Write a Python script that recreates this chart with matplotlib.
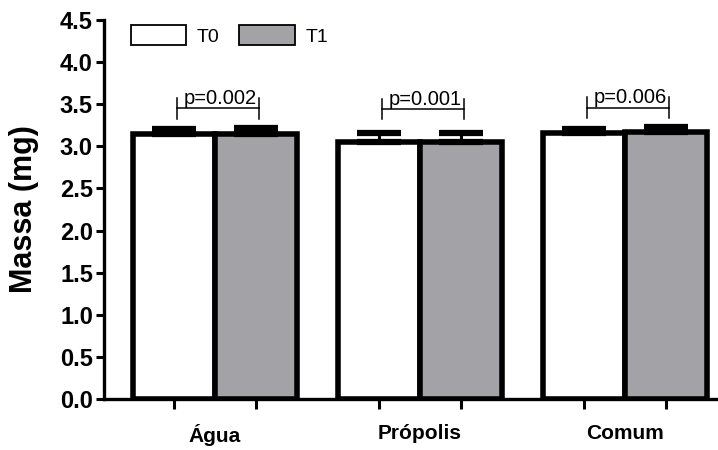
import matplotlib
matplotlib.use("Agg")
import matplotlib.pyplot as plt
import numpy as np
from matplotlib.patches import Patch

plt.rcParams['font.family'] = ['Liberation Sans', 'DejaVu Sans']

categories = ["Água", "Própolis", "Comum"]
series_names = ["T0", "T1"]
t0_mean = [3.15, 3.05, 3.16]
t0_err = [0.06, 0.11, 0.05]
t1_mean = [3.15, 3.05, 3.17]
t1_err = [0.07, 0.11, 0.055]
p_labels = ["p=0.002", "p=0.001", "p=0.006"]
bracket_y = [3.45, 3.44, 3.46]
y_ticks = [0.0, 0.5, 1.0, 1.5, 2.0, 2.5, 3.0, 3.5, 4.0, 4.5]

gray = '#a3a2a7'

fig = plt.figure(figsize=(7.18, 4.5), dpi=100)
ax = fig.add_axes([104/718, 51/450, 614/718, 379/450])

x = np.arange(len(categories))
w = 0.4
edge_lw = 4.0

for means, errs, off, fc in [(t0_mean, t0_err, -w/2, 'white'), (t1_mean, t1_err, w/2, gray)]:
    ax.bar(x + off, means, width=w, color=fc, edgecolor='black', linewidth=edge_lw, zorder=2)
    ax.errorbar(x + off, means, yerr=[np.zeros(len(errs)), errs], fmt='none',
                ecolor='black', elinewidth=2.2, capsize=16, capthick=4.5, zorder=3)

for i, (py, lab) in enumerate(zip(bracket_y, p_labels)):
    x0, x1 = x[i] - w/2 + 0.015, x[i] + w/2 + 0.015
    ax.plot([x0, x1], [py, py], color='black', lw=1.1, zorder=4)
    ax.plot([x0, x0], [py - 0.12, py + 0.12], color='black', lw=1.1, zorder=4)
    ax.plot([x1, x1], [py - 0.12, py + 0.12], color='black', lw=1.1, zorder=4)
    ax.text((x0 + x1) / 2 + 0.01, py + 0.05, lab, ha='center', va='baseline', fontsize=14.5, zorder=5)

ax.set_xlim(-0.541, 2.454)
ax.set_ylim(0, 4.5)
ax.set_yticks(y_ticks)
ax.set_yticklabels([f"{v:.1f}" for v in y_ticks], fontsize=17, fontweight='bold')

bar_centers = np.concatenate([x - w/2, x + w/2])
ax.set_xticks(bar_centers)
ax.set_xticklabels([])
ax.set_xticks(x, minor=True)
ax.set_xticklabels(categories, minor=True, fontsize=15, fontweight='bold')
ax.tick_params(axis='x', which='major', length=7, width=2.2, direction='out')
ax.tick_params(axis='x', which='minor', length=0, pad=18)
ax.tick_params(axis='y', length=6, width=2.2, pad=2)

for s in ['top', 'right']:
    ax.spines[s].set_visible(False)
for s in ['left', 'bottom']:
    ax.spines[s].set_linewidth(2.4)

ax.set_ylabel("Massa (mg)", fontsize=22, fontweight='bold', labelpad=15)

handles = [Patch(facecolor='white', edgecolor='black', linewidth=1.3),
           Patch(facecolor=gray, edgecolor='black', linewidth=1.3)]
ax.legend(handles, series_names, loc='upper left', bbox_to_anchor=(27/614, 0.986),
          ncol=2, frameon=False, fontsize=14, handlelength=2.85, handleheight=1.15,
          handletextpad=0.55, columnspacing=1.0, borderpad=0, borderaxespad=0)

fig.savefig("out.png", dpi=100)
